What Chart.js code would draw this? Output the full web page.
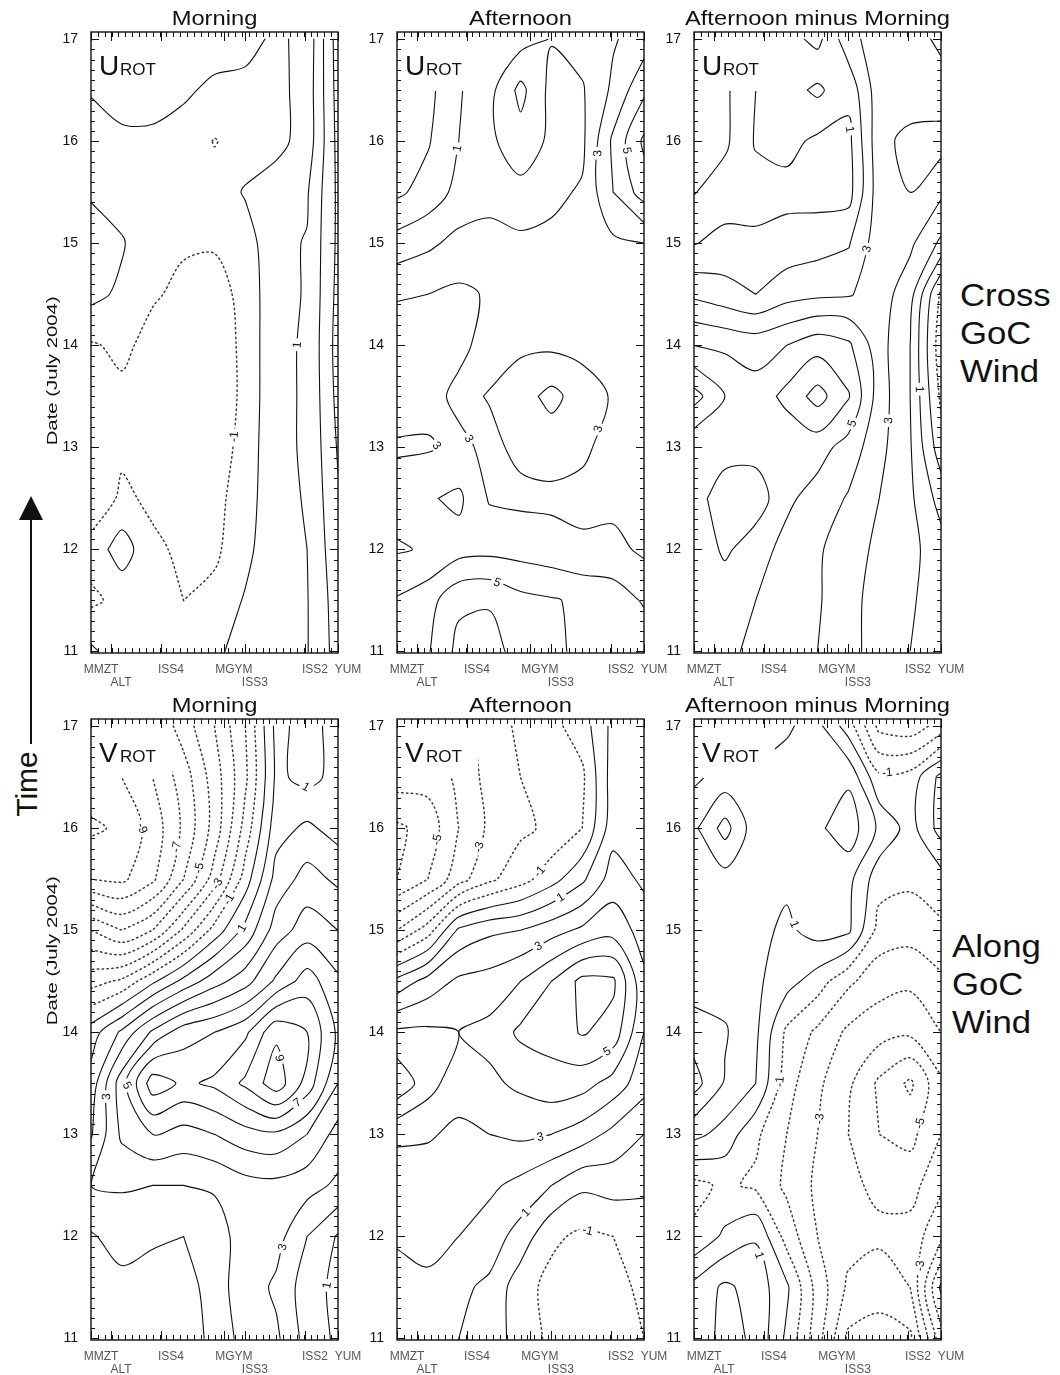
<!DOCTYPE html>
<html>
<head>
<meta charset="utf-8">
<script src="https://cdn.jsdelivr.net/npm/chart.js@4.4.1/dist/chart.umd.min.js"></script>
<style>
  body { margin: 0; background: #fff; width: 1060px; height: 1375px; position: relative; overflow: hidden;
         font-family: "Liberation Sans", Arial, sans-serif; color: #111; }
  .side { position: absolute; font-size: 31px; line-height: 38px; transform: scaleX(1.12); transform-origin: left top; }
  .time { position: absolute; font-size: 30px; width: 90px; text-align: center; transform: rotate(-90deg); }
  .shaft { position: absolute; left: 30px; top: 518px; width: 2px; height: 226px; background: #111; }
  .head { position: absolute; left: 19px; top: 496px; width: 0; height: 0;
          border-left: 12px solid transparent; border-right: 12px solid transparent; border-bottom: 24px solid #111; }
</style>
</head>
<body>
<div class="shaft"></div>
<div class="head"></div>
<div class="time" style="left:-18px; top:767px;">Time</div>
<div class="side" style="left:960px; top:277px;">Cross<br>GoC<br>Wind</div>
<div class="side" style="left:952px; top:928px;">Along<br>GoC<br>Wind</div>
<script>
// stations along the gulf (x axis) and dates (y axis)
const stationNames = ['MMZT', 'ALT', 'ISS4', 'MGYM', 'ISS3', 'ISS2', 'YUM'];
const stationPos = [0, 0.081, 0.283, 0.538, 0.623, 0.866, 1.0];
const stationRow = [0, 1, 0, 0, 1, 0, 0];
const dateTicks = [11, 12, 13, 14, 15, 16, 17];
const columnTitles = ['Morning', 'Afternoon', 'Afternoon minus Morning'];
const rowNames = [['U', 'ROT'], ['V', 'ROT']];
// contour levels (m/s); negative ones are dotted, zero and positive solid
const levels = [-10, -9, -8, -7, -6, -5, -4, -3, -2, -1, 0, 1, 2, 3, 4, 5, 6, 7, 8, 9, 10];

// grid the wind fields were read on (m/s): columns along gridX, rows along gridDate
const gridX = [0, 0.125, 0.25, 0.375, 0.5, 0.625, 0.75, 0.875, 1];
const gridDate = [17, 16.5, 16, 15.5, 15, 14.5, 14, 13.5, 13, 12.5, 12, 11.5, 11];

const uMorning = [
  [0.4, 0.5, 0.5, 0.5, 0.45, 0.35, -0.2, 0.3, 3.5],
  [0.05, 0.2, 0.2, 0.15, -0.2, -0.3, -0.3, 0.4, 3.4],
  [-0.3, -0.1, -0.1, -0.4, -1.05, -0.6, -0.3, 0.4, 3.3],
  [-0.1, -0.5, -0.7, -0.9, -0.6, 0.1, 0.5, 0.9, 3.2],
  [0.4, 0.1, -0.8, -0.9, -0.9, -0.5, 0.8, 1.05, 3.2],
  [0.3, -0.2, -0.9, -1.2, -1.4, -0.7, 0.8, 1.05, 3.3],
  [-1.1, -0.8, -1.3, -1.6, -1.7, -0.7, 0.8, 1.1, 3.4],
  [-1.5, -1.2, -1.4, -1.7, -1.8, -0.7, 0.8, 1.1, 3.3],
  [-1.6, -1.2, -1.3, -1.6, -1.6, -0.6, 0.8, 1.1, 3.1],
  [-1.8, -0.8, -1.2, -1.3, -1.3, -0.5, 0.8, 1.05, 2.9],
  [-0.6, 0.5, -0.8, -1.2, -1.2, -0.3, 0.8, 1.0, 2.7],
  [-1.2, -0.7, -0.9, -1.0, -0.7, 0.1, 0.7, 0.95, 2.5],
  [0.2, -0.6, -0.6, -0.7, -0.2, 0.4, 0.7, 0.95, 2.4]
];
const uAfternoon = [
  [-0.4, -0.3, 0.9, 1.4, 1.6, 2.05, 2.4, 2.9, 3.5],
  [-0.5, -0.3, 0.9, 1.7, 3.3, 1.7, 1.9, 3.2, 4.8],
  [-0.4, -0.1, 1.0, 1.8, 2.6, 1.8, 1.8, 4.2, 6.2],
  [-0.2, 0.4, 1.3, 1.7, 1.7, 1.8, 2.1, 4.0, 5.5],
  [1.4, 1.8, 2.3, 2.3, 2.1, 2.2, 2.4, 2.8, 3.0],
  [2.9, 3.0, 3.2, 2.9, 2.6, 2.5, 2.4, 2.5, 2.7],
  [3.6, 3.5, 3.2, 2.7, 2.8, 2.8, 2.7, 2.5, 2.3],
  [3.4, 3.3, 2.8, 3.05, 3.6, 4.3, 3.5, 2.9, 2.6],
  [2.9, 2.9, 3.2, 2.8, 3.2, 3.4, 3.2, 2.6, 2.4],
  [3.4, 3.9, 4.2, 2.9, 2.8, 2.8, 2.7, 2.7, 2.6],
  [2.9, 3.1, 3.6, 3.7, 3.6, 3.4, 3.2, 3.3, 2.8],
  [4.1, 4.6, 5.8, 5.9, 5.3, 5.1, 4.8, 4.5, 3.9],
  [4.3, 4.9, 6.3, 6.4, 5.6, 5.2, 4.8, 4.6, 4.6]
];
const uDiff = [
  [-0.4, -0.3, 0.9, 1.4, 0.7, 2.6, 3.6, 3.4, 4.3],
  [-0.4, -0.2, 1.0, 1.6, 2.2, 1.3, 3.6, 3.4, 3.4],
  [-0.3, -0.2, 1.1, 1.3, 0.8, 0.7, 3.7, 4.3, 4.4],
  [-0.05, 0.5, 0.6, 0.7, 0.6, 0.6, 3.6, 4.0, 3.2],
  [0.95, 1.3, 1.2, 1.4, 1.6, 1.9, 3.6, 3.2, 1.8],
  [2.8, 2.4, 2.0, 2.6, 2.8, 2.9, 3.5, 2.4, -1.2],
  [5.0, 4.8, 4.6, 5.0, 5.6, 5.2, 3.4, 2.0, -1.6],
  [7.4, 6.0, 5.4, 6.3, 7.4, 6.1, 3.5, 2.0, -1.2],
  [5.2, 5.4, 5.6, 5.2, 5.4, 4.6, 3.3, 2.1, -0.6],
  [5.4, 6.8, 6.6, 5.2, 4.6, 3.9, 3.0, 2.2, 0.6],
  [5.2, 6.2, 5.4, 4.7, 4.1, 3.6, 2.7, 2.3, 1.4],
  [5.4, 5.3, 5.0, 4.6, 4.1, 3.4, 2.5, 2.1, 1.6],
  [5.6, 5.1, 4.9, 4.5, 4.0, 3.3, 2.6, 2.0, 1.5]
];
const vMorning = [
  [-8.5, -8.0, -7.0, -5.5, -4.0, -2.0, 1.3, 0.6, 1.4],
  [-9.3, -9.0, -8.0, -6.5, -4.5, -2.2, 1.2, 0.7, 1.3],
  [-10.2, -9.8, -8.6, -6.8, -4.6, -1.6, 1.6, 2.2, 1.6],
  [-9.0, -9.2, -8.2, -6.0, -3.5, -0.5, 2.4, 3.4, 2.8],
  [-5.0, -6.0, -5.0, -2.8, -0.6, 1.3, 3.5, 4.5, 4.0],
  [-2.4, -1.8, -0.2, 1.3, 2.6, 3.6, 5.2, 6.5, 5.2],
  [0.5, 2.2, 4.2, 5.6, 6.0, 6.8, 8.8, 8.0, 5.8],
  [1.4, 4.6, 7.6, 6.8, 7.2, 8.2, 9.6, 7.6, 5.0],
  [1.9, 4.2, 5.0, 4.6, 5.0, 5.6, 5.8, 5.0, 3.6],
  [3.0, 3.1, 3.0, 3.0, 3.1, 3.6, 3.7, 3.4, 2.8],
  [1.9, 2.4, 2.2, 2.0, 2.6, 3.4, 3.4, 2.0, 0.9],
  [1.4, 1.7, 1.4, 1.5, 2.5, 3.6, 2.8, 1.5, 0.7],
  [1.6, 1.3, 1.2, 1.4, 2.3, 3.4, 3.2, 1.6, 0.8]
];
const vAfternoon = [
  [-3.5, -3.8, -3.5, -2.5, -1.8, -1.3, -0.5, 1.3, 1.0],
  [-4.5, -4.6, -3.8, -2.6, -2.0, -1.6, -1.2, 1.5, 1.6],
  [-6.2, -5.6, -4.0, -2.8, -2.2, -1.8, -1.0, 1.6, 1.3],
  [-6.0, -5.0, -3.4, -2.2, -1.4, -0.4, 0.8, 2.5, 1.8],
  [-3.0, -1.5, 1.2, 1.8, 2.0, 2.6, 3.2, 3.6, 2.6],
  [1.3, 2.4, 3.2, 3.4, 4.0, 5.0, 6.3, 6.2, 3.2],
  [4.2, 4.2, 4.0, 4.3, 5.2, 5.4, 6.1, 5.6, 3.0],
  [5.8, 4.4, 3.4, 3.8, 4.2, 4.6, 4.4, 3.6, 2.4],
  [3.2, 3.1, 2.8, 3.0, 3.2, 3.0, 2.5, 1.7, 1.0],
  [2.4, 2.5, 2.5, 2.2, 1.7, 1.0, 0.2, 0.4, 0.2],
  [2.1, 2.3, 2.0, 1.5, 0.6, -0.8, -1.2, -1.0, -0.6],
  [1.7, 1.8, 1.2, 0.8, -0.6, -1.3, -1.7, -1.3, -0.8],
  [1.2, 1.6, 1.0, 0.6, -0.5, -1.2, -1.6, -1.5, -1.0]
];
const vDiff = [
  [0.5, 0.6, 0.6, 0.9, 1.3, -0.5, -3.3, -3.6, -2.6],
  [0.8, 1.4, 1.2, 1.3, 1.6, 1.8, -0.8, -0.6, 1.3],
  [1.8, 3.4, 1.4, 1.3, 1.8, 2.6, 0.8, -0.4, 1.4],
  [1.5, 1.6, 1.3, 1.2, 1.5, 1.3, -0.6, -0.8, -0.4],
  [1.4, 1.6, 1.3, 0.8, 1.4, 1.2, -1.4, -1.6, -1.2],
  [1.4, 1.6, 1.2, 0.4, -0.5, -1.8, -2.6, -2.8, -2.2],
  [2.6, 2.1, 1.2, -1.2, -2.2, -3.2, -3.6, -3.8, -3.0],
  [3.4, 1.9, 1.0, -1.6, -2.8, -3.8, -5.2, -6.2, -4.2],
  [1.3, 0.6, -0.8, -2.0, -3.0, -4.0, -5.0, -5.3, -4.0],
  [-1.3, -0.8, -1.2, -2.2, -3.2, -3.8, -4.2, -4.4, -3.2],
  [-0.8, 0.2, 0.9, -1.4, -3.0, -3.6, -3.8, -3.6, -2.2],
  [1.3, 2.2, 1.6, 0.2, -2.4, -4.2, -4.6, -4.0, 0.2],
  [1.2, 2.4, 1.8, -0.2, -2.6, -5.2, -5.4, -5.2, -1.4]
];

const panels = [
  { field: uMorning, col: 0, row: 0 },
  { field: uAfternoon, col: 1, row: 0 },
  { field: uDiff, col: 2, row: 0 },
  { field: vMorning, col: 0, row: 1 },
  { field: vAfternoon, col: 1, row: 1 },
  { field: vDiff, col: 2, row: 1 }
];

// page geometry
const plotLeft = [91, 397, 694];
const plotTop = [32, 719];
const PW = 247, PH = 621;
const AXW = 62, AXH = 40, PADT = 32, PADR = 40;
const FONT = '"Liberation Sans", Arial, sans-serif';
Chart.defaults.font.family = FONT;

// marching squares -> joined polylines in data units
function traceContours(g, level) {
  const ny = g.length, nx = g[0].length;
  const pts = {};
  const segs = [];
  const pt = (key, i0, j0, i1, j1) => {
    if (!pts[key]) {
      const a = g[j0][i0], b = g[j1][i1];
      const t = (level - a) / (b - a);
      pts[key] = {
        x: gridX[i0] + t * (gridX[i1] - gridX[i0]),
        y: gridDate[j0] + t * (gridDate[j1] - gridDate[j0])
      };
    }
    return key;
  };
  for (let j = 0; j < ny - 1; j++) {
    for (let i = 0; i < nx - 1; i++) {
      const tl = g[j][i], tr = g[j][i + 1], br = g[j + 1][i + 1], bl = g[j + 1][i];
      const code = (tl > level ? 8 : 0) | (tr > level ? 4 : 0) | (br > level ? 2 : 0) | (bl > level ? 1 : 0);
      if (code === 0 || code === 15) continue;
      const T = () => pt('h' + i + '_' + j, i, j, i + 1, j);
      const B = () => pt('h' + i + '_' + (j + 1), i, j + 1, i + 1, j + 1);
      const L = () => pt('v' + i + '_' + j, i, j, i, j + 1);
      const R = () => pt('v' + (i + 1) + '_' + j, i + 1, j, i + 1, j + 1);
      const mid = (tl + tr + br + bl) / 4 > level;
      switch (code) {
        case 1: case 14: segs.push([L(), B()]); break;
        case 2: case 13: segs.push([B(), R()]); break;
        case 3: case 12: segs.push([L(), R()]); break;
        case 4: case 11: segs.push([T(), R()]); break;
        case 6: case 9: segs.push([T(), B()]); break;
        case 7: case 8: segs.push([L(), T()]); break;
        case 5:
          if (mid) { segs.push([L(), T()]); segs.push([B(), R()]); }
          else { segs.push([T(), R()]); segs.push([L(), B()]); }
          break;
        case 10:
          if (mid) { segs.push([T(), R()]); segs.push([L(), B()]); }
          else { segs.push([L(), T()]); segs.push([B(), R()]); }
          break;
      }
    }
  }
  const adj = new Map();
  segs.forEach((s, k) => s.forEach(e => { if (!adj.has(e)) adj.set(e, []); adj.get(e).push(k); }));
  const used = new Array(segs.length).fill(false);
  const lines = [];
  for (let k = 0; k < segs.length; k++) {
    if (used[k]) continue;
    used[k] = true;
    const chain = [segs[k][0], segs[k][1]];
    const grow = atEnd => {
      for (;;) {
        const e = atEnd ? chain[chain.length - 1] : chain[0];
        const n = adj.get(e).find(m => !used[m]);
        if (n === undefined) break;
        used[n] = true;
        const other = segs[n][0] === e ? segs[n][1] : segs[n][0];
        if (atEnd) chain.push(other); else chain.unshift(other);
      }
    };
    grow(true);
    grow(false);
    lines.push(chain.map(key => pts[key]));
  }
  return lines;
}

function contourDatasets(field) {
  const out = [];
  levels.forEach(L => {
    traceContours(field, L).forEach(line => {
      out.push({
        data: line,
        level: L,
        showLine: true,
        pointRadius: 0,
        tension: 0.3,
        borderColor: L >= 0 ? '#111' : '#3a3a3a',
        borderWidth: L >= 0 ? 1.1 : 1.5,
        borderDash: L >= 0 ? [] : [1.4, 3.4],
        borderCapStyle: 'round'
      });
    });
  });
  return out;
}

function stretchText(ctx, txt, x, y, sx) {
  ctx.save();
  ctx.translate(x, y);
  ctx.scale(sx, 1);
  ctx.fillText(txt, 0, 0);
  ctx.restore();
}

const decor = {
  id: 'decor',
  afterDatasetsDraw(chart, args, o) {
    const ctx = chart.ctx, a = chart.chartArea;
    const xs = chart.scales.x, ys = chart.scales.y;
    ctx.save();
    // contour labels on odd levels
    ctx.font = '12px ' + FONT;
    ctx.textAlign = 'center';
    ctx.textBaseline = 'middle';
    chart.data.datasets.forEach((ds, i) => {
      if (Math.abs(ds.level) % 2 !== 1) return;
      const p = chart.getDatasetMeta(i).data;
      const cum = [0];
      for (let k = 1; k < p.length; k++) cum.push(cum[k - 1] + Math.hypot(p[k].x - p[k - 1].x, p[k].y - p[k - 1].y));
      const len = cum[cum.length - 1];
      if (len < 90) return;
      let k = 1;
      while (k < p.length - 1 && cum[k] < len / 2) k++;
      const t = (len / 2 - cum[k - 1]) / ((cum[k] - cum[k - 1]) || 1);
      const x = p[k - 1].x + t * (p[k].x - p[k - 1].x);
      const y = p[k - 1].y + t * (p[k].y - p[k - 1].y);
      if (x < a.left + 88 && y < a.top + 64) return;
      if (x < a.left + 6 || x > a.right - 6 || y < a.top + 6 || y > a.bottom - 6) return;
      let ang = Math.atan2(p[k].y - p[k - 1].y, p[k].x - p[k - 1].x);
      if (ang > Math.PI / 2) ang -= Math.PI;
      if (ang < -Math.PI / 2) ang += Math.PI;
      const txt = String(ds.level);
      const w = ctx.measureText(txt).width;
      ctx.save();
      ctx.translate(x, y);
      ctx.rotate(ang);
      ctx.fillStyle = '#fff';
      ctx.fillRect(-w / 2 - 3, -6, w + 6, 12);
      ctx.fillStyle = '#111';
      ctx.fillText(txt, 0, 0.5);
      ctx.restore();
    });

    // variable name box
    ctx.fillStyle = '#fff';
    ctx.fillRect(a.left + 1, a.top + 1, 80, 58);
    ctx.fillStyle = '#111';
    ctx.textAlign = 'left';
    ctx.textBaseline = 'alphabetic';
    ctx.font = '28px ' + FONT;
    ctx.fillText(o.name[0], a.left + 8, a.top + 43);
    ctx.font = '17px ' + FONT;
    ctx.fillText(o.name[1], a.left + 29, a.top + 43);

    // frame and inward ticks on all four sides
    ctx.strokeStyle = '#111';
    ctx.lineWidth = 1.4;
    ctx.strokeRect(a.left, a.top, a.right - a.left, a.bottom - a.top);
    ctx.lineWidth = 1;
    ctx.beginPath();
    for (let k = 1; k < 36; k++) {
      const px = Math.round(a.left + (a.right - a.left) * k / 36) + 0.5;
      ctx.moveTo(px, a.bottom); ctx.lineTo(px, a.bottom - 5);
      ctx.moveTo(px, a.top); ctx.lineTo(px, a.top + 5);
    }
    stationPos.forEach(v => {
      const px = Math.round(xs.getPixelForValue(v)) + 0.5;
      ctx.moveTo(px, a.bottom); ctx.lineTo(px, a.bottom - 9);
      ctx.moveTo(px, a.top); ctx.lineTo(px, a.top + 9);
    });
    for (let d = 110; d <= 170; d++) {
      const py = Math.round(ys.getPixelForValue(d / 10)) + 0.5;
      const len = d % 10 === 0 ? 8 : 4;
      ctx.moveTo(a.left, py); ctx.lineTo(a.left + len, py);
      ctx.moveTo(a.right, py); ctx.lineTo(a.right - len, py);
    }
    ctx.stroke();

    // column title
    ctx.font = '21px ' + FONT;
    ctx.textAlign = 'center';
    ctx.fillStyle = '#111';
    stretchText(ctx, o.title, (a.left + a.right) / 2, a.top - 7, 1.13);

    // y axis title on the left column
    if (o.dateLabel) {
      ctx.save();
      ctx.font = '14px ' + FONT;
      ctx.translate(a.left - 34, ys.getPixelForValue(o.dateAt));
      ctx.rotate(-Math.PI / 2);
      ctx.scale(1.45, 1);
      ctx.fillText('Date (July 2004)', 0, 0);
      ctx.restore();
    }
    ctx.restore();
  }
};

panels.forEach(p => {
  const cv = document.createElement('canvas');
  cv.width = AXW + PW + PADR;
  cv.height = PADT + PH + AXH;
  cv.style.cssText = 'position:absolute;left:' + (plotLeft[p.col] - AXW) + 'px;top:' + (plotTop[p.row] - PADT) + 'px;';
  document.body.appendChild(cv);
  new Chart(cv, {
    type: 'scatter',
    data: { datasets: contourDatasets(p.field) },
    options: {
      responsive: false,
      animation: false,
      devicePixelRatio: 1,
      layout: { padding: { left: 0, right: PADR, top: PADT, bottom: 0 } },
      plugins: {
        legend: { display: false },
        tooltip: { enabled: false },
        decor: {
          title: columnTitles[p.col],
          name: rowNames[p.row],
          dateLabel: p.col === 0,
          dateAt: p.row === 0 ? 13.75 : 14.8
        }
      },
      scales: {
        x: {
          type: 'linear', min: 0, max: 1,
          afterBuildTicks: s => { s.ticks = stationPos.map(v => ({ value: v })); },
          afterFit: s => { s.height = AXH; },
          grid: { display: false },
          border: { display: false },
          ticks: {
            autoSkip: false, maxRotation: 0, minRotation: 0, padding: 2, labelOffset: 10,
            color: '#555', font: { size: 12, lineHeight: 1.08 },
            callback: (v, i) => stationRow[i] ? ['', stationNames[i]] : stationNames[i]
          }
        },
        y: {
          type: 'linear', min: 10.985, max: 17.07,
          afterBuildTicks: s => { s.ticks = dateTicks.map(v => ({ value: v })); },
          afterFit: s => { s.width = AXW; },
          grid: { display: false },
          border: { display: false },
          ticks: { padding: 5, color: '#111', font: { size: 14 }, callback: v => String(v) }
        }
      }
    },
    plugins: [decor]
  });
});
</script>
</body>
</html>
